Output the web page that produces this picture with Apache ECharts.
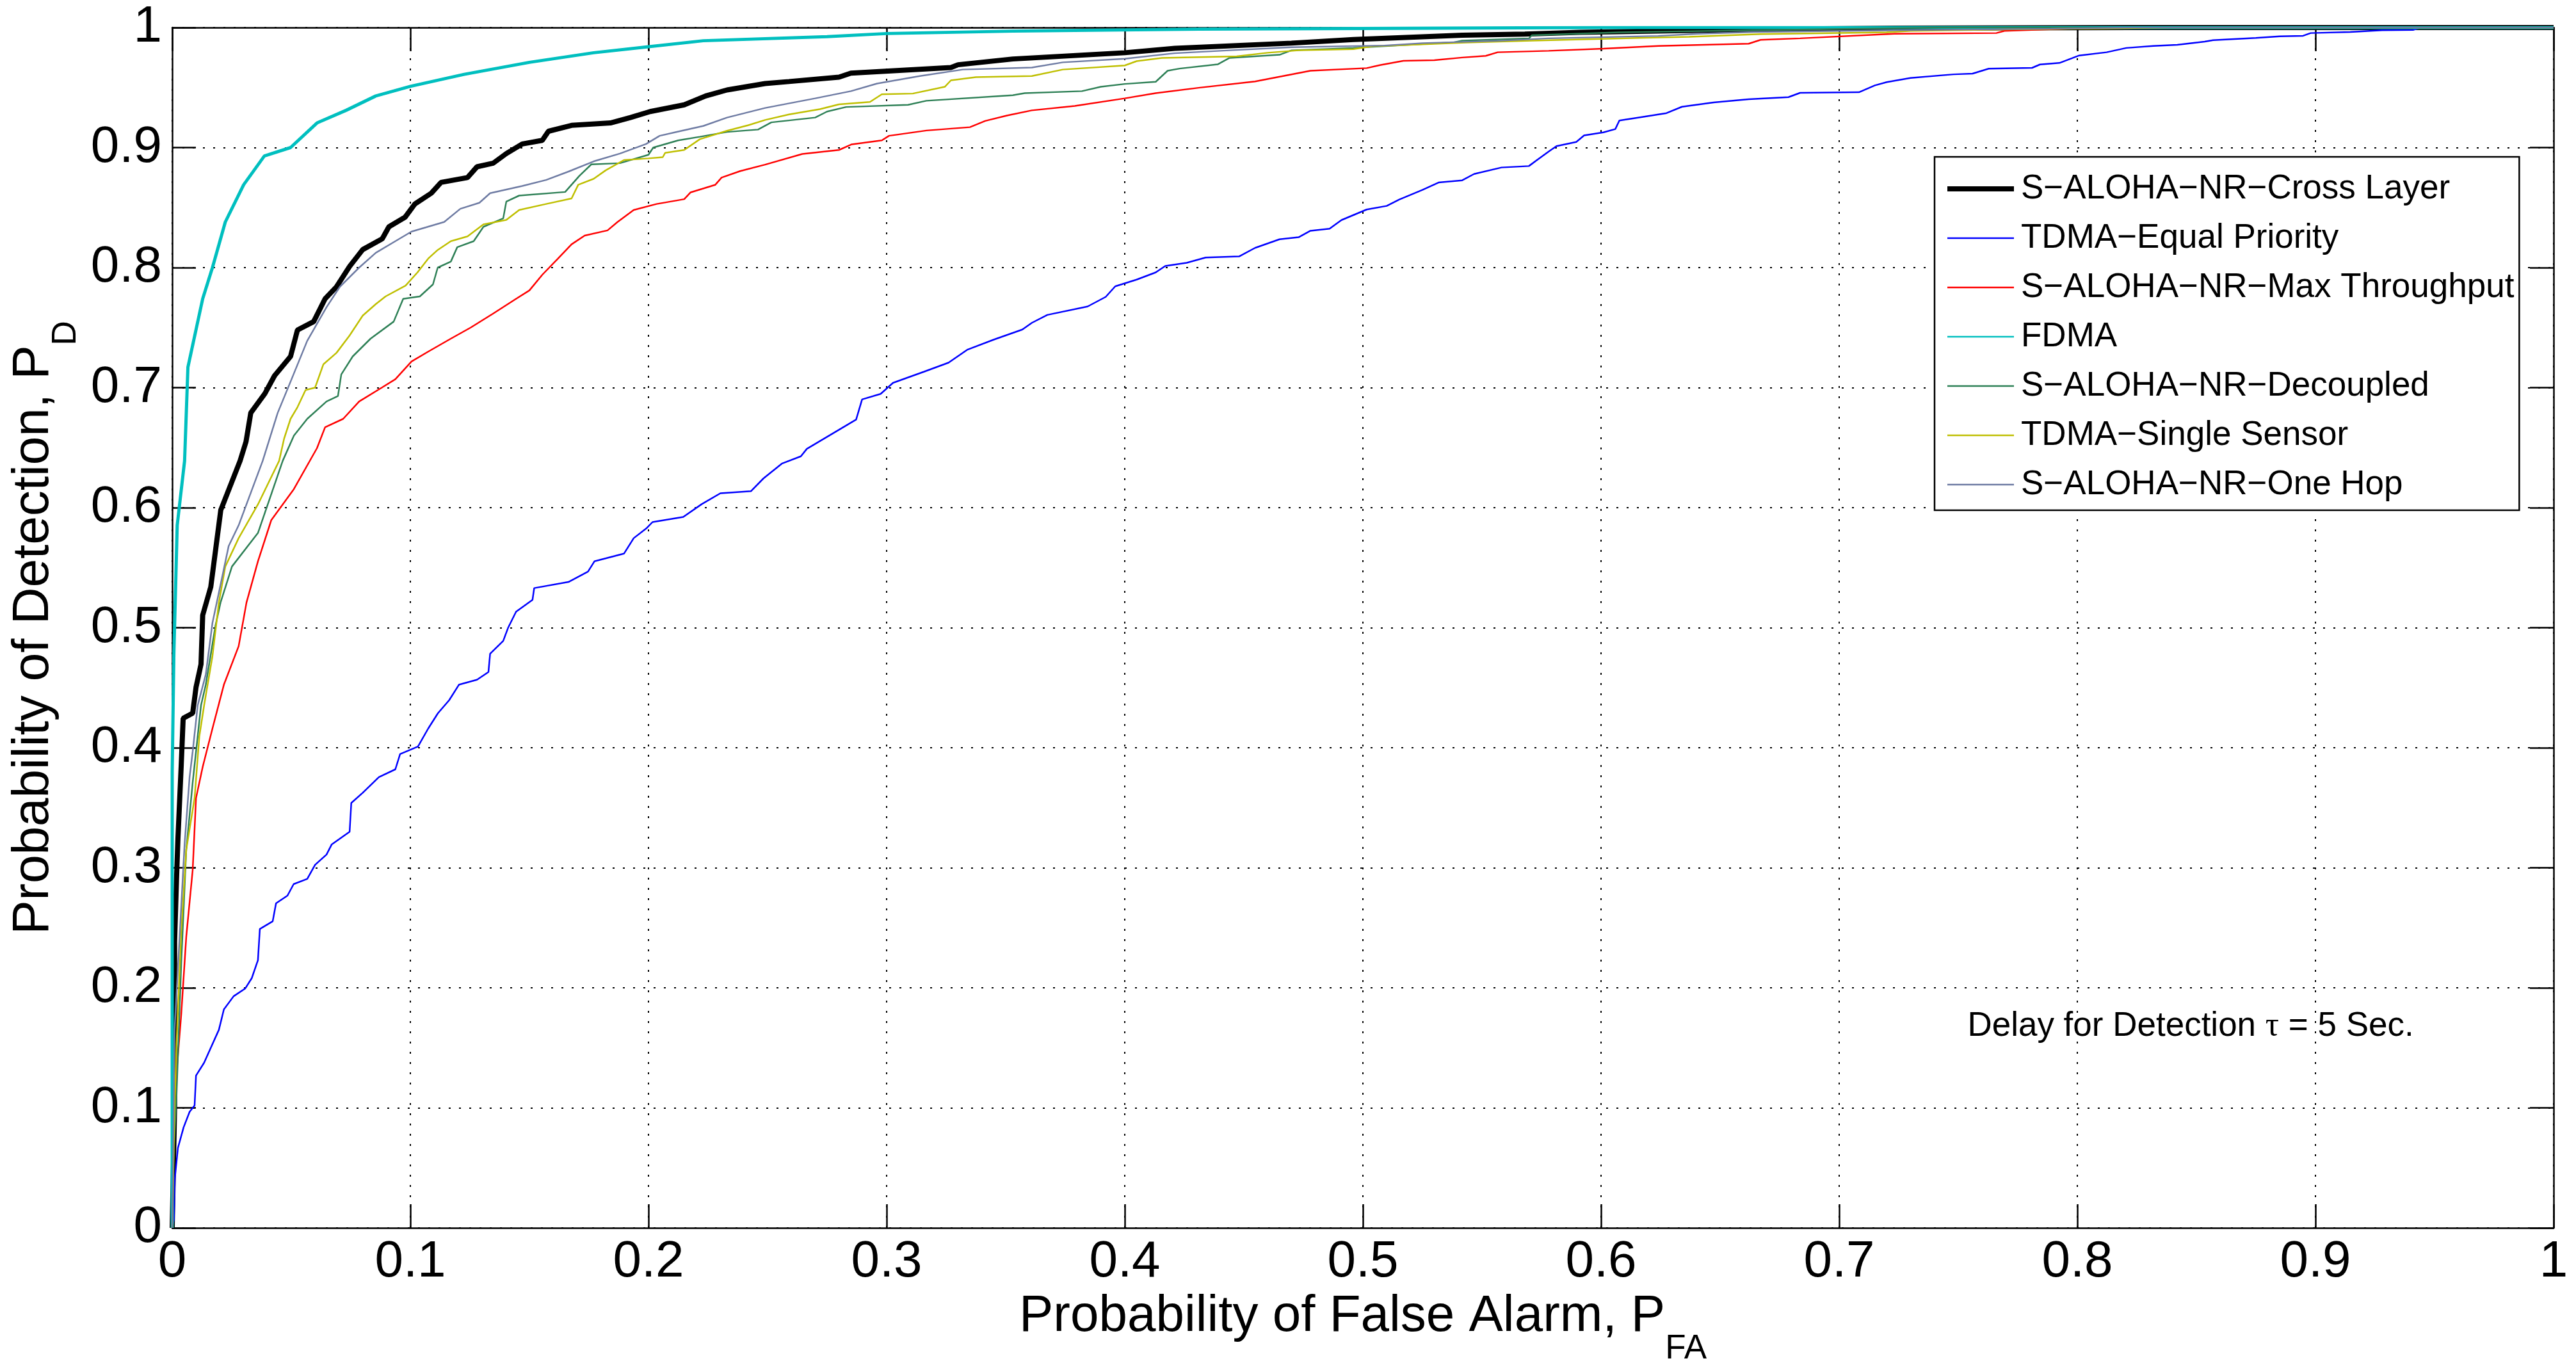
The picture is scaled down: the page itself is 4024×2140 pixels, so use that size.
<!DOCTYPE html>
<html>
<head>
<meta charset="utf-8">
<script src="https://cdn.jsdelivr.net/npm/echarts@6/dist/echarts.min.js"></script>
<style>
html, body { margin: 0; padding: 0; background: #fff; }
#chart { width: 4024px; height: 2140px; }
</style>
</head>
<body>
<div id="chart"></div>
<script>
// series names, in legend order
var seriesNames = [
  "S\u2212ALOHA\u2212NR\u2212Cross Layer",
  "TDMA\u2212Equal Priority",
  "S\u2212ALOHA\u2212NR\u2212Max Throughput",
  "FDMA",
  "S\u2212ALOHA\u2212NR\u2212Decoupled",
  "TDMA\u2212Single Sensor",
  "S\u2212ALOHA\u2212NR\u2212One Hop"
]

// ROC points [P_FA, P_D]
var crossLayer = [[0,0],[0.001,0.1],[0.001,0.238],[0.0018,0.29],[0.0024,0.324],[0.0038,0.386],[0.0046,0.4245],[0.0086,0.4288],[0.01,0.4503],[0.0121,0.4696],[0.0128,0.5104],[0.0162,0.534],[0.0204,0.598],[0.0285,0.639],[0.031,0.655],[0.033,0.679],[0.0389,0.695],[0.043,0.71],[0.0497,0.726],[0.0526,0.748],[0.0594,0.755],[0.0642,0.774],[0.069,0.784],[0.0745,0.801],[0.08,0.815],[0.0882,0.824],[0.091,0.834],[0.0978,0.842],[0.1019,0.853],[0.1088,0.862],[0.1129,0.871],[0.124,0.875],[0.128,0.884],[0.1348,0.887],[0.1403,0.895],[0.147,0.903],[0.1554,0.906],[0.158,0.9136],[0.1677,0.9185],[0.184,0.9205],[0.1924,0.925],[0.2007,0.93],[0.215,0.9356],[0.224,0.943],[0.233,0.948],[0.249,0.9533],[0.259,0.955],[0.28,0.9587],[0.285,0.962],[0.327,0.9667],[0.33,0.969],[0.353,0.9738],[0.4,0.979],[0.421,0.9827],[0.47,0.987],[0.496,0.99],[0.5417,0.9936],[0.568,0.9945],[0.591,0.996],[0.627,0.9972],[0.664,0.9984],[0.7232,0.9995],[0.822,1],[1,1]]

var equalPriority = [[0,0],[0.0007,0.007],[0.0011,0.041],[0.0024,0.0666],[0.0048,0.0838],[0.0073,0.0967],[0.0094,0.102],[0.01,0.1269],[0.0134,0.1376],[0.0162,0.15],[0.0196,0.165],[0.0217,0.182],[0.0258,0.193],[0.0307,0.1995],[0.0334,0.208],[0.036,0.223],[0.0368,0.249],[0.0422,0.2554],[0.0436,0.2704],[0.0484,0.2768],[0.051,0.2864],[0.0567,0.2907],[0.06,0.3025],[0.0648,0.311],[0.067,0.3195],[0.0745,0.33],[0.0752,0.354],[0.08,0.3625],[0.0868,0.3755],[0.0937,0.382],[0.0957,0.3947],[0.1032,0.401],[0.1075,0.416],[0.1116,0.4288],[0.1163,0.4396],[0.1204,0.4525],[0.128,0.4567],[0.1328,0.4631],[0.1335,0.4783],[0.139,0.489],[0.141,0.4997],[0.1444,0.5133],[0.1513,0.5232],[0.152,0.533],[0.1664,0.5381],[0.1746,0.5467],[0.1773,0.5553],[0.1897,0.5617],[0.1938,0.5746],[0.1993,0.5831],[0.2017,0.588],[0.2146,0.5923],[0.2224,0.603],[0.2302,0.612],[0.243,0.6137],[0.2483,0.6244],[0.256,0.6367],[0.264,0.6428],[0.2665,0.649],[0.2794,0.6642],[0.2872,0.6734],[0.2897,0.6902],[0.2975,0.6948],[0.3027,0.704],[0.3156,0.7132],[0.326,0.7208],[0.3338,0.7315],[0.345,0.74],[0.357,0.7484],[0.361,0.754],[0.3675,0.7606],[0.3844,0.7676],[0.392,0.7756],[0.396,0.7844],[0.405,0.79],[0.413,0.796],[0.417,0.8013],[0.426,0.804],[0.434,0.8084],[0.448,0.8093],[0.4547,0.8164],[0.465,0.8236],[0.473,0.8253],[0.478,0.8307],[0.486,0.8324],[0.491,0.8396],[0.5016,0.8484],[0.51,0.8514],[0.5153,0.8567],[0.525,0.8647],[0.5318,0.8709],[0.5417,0.8727],[0.5467,0.878],[0.5582,0.8834],[0.5697,0.8846],[0.5731,0.8896],[0.578,0.8967],[0.5813,0.9012],[0.5896,0.9047],[0.5929,0.9101],[0.601,0.9127],[0.606,0.9154],[0.6077,0.9225],[0.616,0.9251],[0.6275,0.9287],[0.634,0.934],[0.6473,0.9376],[0.662,0.9403],[0.6787,0.942],[0.6836,0.9456],[0.7083,0.9461],[0.715,0.9518],[0.72,0.9545],[0.73,0.958],[0.748,0.961],[0.756,0.9616],[0.7628,0.9657],[0.781,0.9664],[0.7843,0.9692],[0.7925,0.9705],[0.8008,0.9767],[0.8123,0.9794],[0.8206,0.983],[0.832,0.9847],[0.842,0.9856],[0.8535,0.9883],[0.857,0.9895],[0.875,0.9913],[0.885,0.9927],[0.8948,0.9931],[0.898,0.9954],[0.9146,0.9963],[0.928,0.9977],[0.941,0.998],[0.944,1],[1,1]]

var maxThroughput = [[0,0],[0.001,0.109],[0.0038,0.178],[0.0059,0.2426],[0.0086,0.298],[0.01,0.358],[0.0128,0.384],[0.0169,0.416],[0.0217,0.4525],[0.0279,0.4846],[0.0312,0.521],[0.036,0.5553],[0.0416,0.5896],[0.0511,0.6155],[0.0608,0.6496],[0.0642,0.667],[0.0718,0.674],[0.0785,0.6885],[0.088,0.7],[0.0937,0.707],[0.1005,0.7218],[0.1075,0.73],[0.117,0.7408],[0.1253,0.75],[0.1348,0.7617],[0.1444,0.774],[0.15,0.781],[0.1554,0.794],[0.162,0.8075],[0.1677,0.8194],[0.1732,0.8267],[0.1828,0.831],[0.187,0.838],[0.1938,0.848],[0.2034,0.853],[0.215,0.857],[0.2177,0.8627],[0.228,0.8689],[0.2307,0.875],[0.2385,0.8804],[0.249,0.8858],[0.2646,0.8947],[0.28,0.898],[0.2854,0.9027],[0.298,0.906],[0.301,0.9098],[0.3167,0.9142],[0.335,0.917],[0.3414,0.9222],[0.3505,0.9267],[0.361,0.931],[0.379,0.9347],[0.4,0.941],[0.413,0.9453],[0.431,0.9498],[0.4547,0.9551],[0.478,0.964],[0.5016,0.9662],[0.5071,0.9687],[0.517,0.9723],[0.53,0.9728],[0.5417,0.975],[0.5516,0.9764],[0.5566,0.9794],[0.578,0.9806],[0.601,0.9824],[0.6242,0.9847],[0.662,0.9865],[0.667,0.9897],[0.6836,0.991],[0.7232,0.9948],[0.766,0.9954],[0.7694,0.9972],[0.796,0.999],[0.847,1],[1,1]]

var fdma = [[0,0],[0,0.38],[0.0007,0.478],[0.0021,0.5853],[0.0052,0.639],[0.0066,0.717],[0.0128,0.774],[0.0169,0.8],[0.0223,0.838],[0.03,0.869],[0.0387,0.893],[0.0497,0.9],[0.0608,0.9205],[0.073,0.931],[0.0855,0.943],[0.1,0.951],[0.1226,0.961],[0.15,0.971],[0.177,0.979],[0.2,0.984],[0.223,0.989],[0.275,0.9924],[0.3,0.995],[0.353,0.997],[0.431,0.9987],[0.6,1],[1,1]]

var decoupled = [[0,0],[0.0007,0.0666],[0.0018,0.1096],[0.0038,0.221],[0.0059,0.315],[0.0086,0.371],[0.0121,0.4353],[0.0141,0.4525],[0.0182,0.502],[0.0203,0.521],[0.0251,0.551],[0.036,0.5789],[0.0464,0.639],[0.0511,0.66],[0.0567,0.674],[0.0648,0.6885],[0.0696,0.693],[0.071,0.711],[0.0758,0.726],[0.0833,0.7408],[0.093,0.755],[0.097,0.774],[0.104,0.776],[0.1095,0.786],[0.1115,0.8],[0.117,0.805],[0.1197,0.817],[0.1266,0.822],[0.1307,0.834],[0.139,0.841],[0.1403,0.855],[0.1457,0.86],[0.165,0.863],[0.171,0.8765],[0.176,0.886],[0.188,0.887],[0.2,0.894],[0.202,0.9],[0.2125,0.906],[0.2216,0.909],[0.233,0.913],[0.246,0.915],[0.2516,0.921],[0.27,0.925],[0.275,0.93],[0.283,0.9338],[0.309,0.9356],[0.3167,0.939],[0.353,0.9436],[0.358,0.9453],[0.382,0.947],[0.39,0.9507],[0.4,0.953],[0.413,0.9548],[0.4156,0.9596],[0.418,0.964],[0.423,0.9658],[0.439,0.9693],[0.444,0.9747],[0.465,0.9773],[0.47,0.981],[0.496,0.983],[0.5384,0.9877],[0.5417,0.9891],[0.5697,0.9909],[0.571,0.9936],[0.6077,0.996],[0.664,0.9977],[0.7232,0.9995],[0.743,1],[1,1]]

var singleSensor = [[0,0],[0.001,0.1],[0.0018,0.1525],[0.0038,0.2468],[0.0059,0.315],[0.0094,0.358],[0.0114,0.4096],[0.0134,0.4353],[0.0169,0.4763],[0.0196,0.521],[0.0223,0.551],[0.0279,0.5746],[0.036,0.6027],[0.0449,0.639],[0.047,0.6576],[0.0497,0.674],[0.0526,0.6837],[0.056,0.698],[0.06,0.7],[0.0635,0.7195],[0.069,0.729],[0.0745,0.7435],[0.08,0.76],[0.0855,0.7696],[0.0896,0.776],[0.098,0.785],[0.103,0.796],[0.1075,0.8075],[0.1115,0.8147],[0.117,0.822],[0.124,0.826],[0.1307,0.836],[0.1403,0.8397],[0.1457,0.848],[0.157,0.853],[0.1677,0.8576],[0.1705,0.869],[0.177,0.874],[0.182,0.881],[0.1897,0.8896],[0.2,0.891],[0.206,0.892],[0.207,0.8956],[0.215,0.898],[0.2216,0.907],[0.233,0.914],[0.242,0.9187],[0.249,0.923],[0.259,0.9276],[0.272,0.932],[0.28,0.936],[0.293,0.938],[0.298,0.9444],[0.311,0.945],[0.3245,0.9507],[0.327,0.956],[0.3375,0.9587],[0.361,0.9596],[0.374,0.965],[0.4,0.9684],[0.405,0.972],[0.4156,0.9747],[0.447,0.976],[0.46,0.979],[0.473,0.981],[0.496,0.982],[0.504,0.9844],[0.525,0.986],[0.543,0.9874],[0.571,0.9891],[0.616,0.9913],[0.637,0.9923],[0.667,0.9945],[0.7199,0.996],[0.73,0.9972],[0.7694,0.9984],[0.819,0.9995],[0.8387,1],[1,1]]

var oneHop = [[0,0],[0.001,0.165],[0.0052,0.3196],[0.0073,0.3755],[0.0086,0.3968],[0.0107,0.4353],[0.0141,0.461],[0.0169,0.504],[0.021,0.5424],[0.0237,0.568],[0.0279,0.5853],[0.038,0.639],[0.0443,0.679],[0.0497,0.705],[0.0567,0.739],[0.0648,0.767],[0.0704,0.784],[0.0785,0.8],[0.0855,0.8123],[0.0937,0.822],[0.1005,0.83],[0.1142,0.838],[0.121,0.849],[0.129,0.854],[0.1335,0.862],[0.147,0.868],[0.157,0.873],[0.1664,0.88],[0.177,0.8885],[0.188,0.895],[0.199,0.903],[0.2047,0.9098],[0.2125,0.9133],[0.223,0.918],[0.233,0.925],[0.249,0.933],[0.27,0.941],[0.285,0.947],[0.296,0.9533],[0.314,0.9596],[0.332,0.965],[0.361,0.9667],[0.374,0.971],[0.4,0.974],[0.421,0.9786],[0.444,0.981],[0.47,0.9836],[0.509,0.985],[0.525,0.987],[0.558,0.989],[0.578,0.991],[0.624,0.993],[0.6407,0.9948],[0.664,0.9963],[0.7232,0.9977],[0.789,0.999],[0.822,1],[1,1]]

var seriesData = [crossLayer, equalPriority, maxThroughput, fdma, decoupled, singleSensor, oneHop]
var lineColors = ["#000000", "#0000ff", "#ff0000", "#00bfbf", "#2e8056", "#bfbf00", "#6e7ba3"]
var lineWidths = [8, 2.5, 2.5, 5, 2.5, 2.5, 2.5]

var annotationText = "Delay for Detection {t|\u03c4} = 5 Sec."
var annotationAt = [0.8476, 0.168]

var FONT = "Liberation Sans, Arial, Helvetica, sans-serif"

var chart = echarts.init(document.getElementById("chart"))

var series = []
var legendItems = []
for (var i = 0; i < seriesData.length; i++) {
  series.push({
    name: seriesNames[i],
    type: "line",
    data: seriesData[i],
    symbol: "none",
    smooth: false,
    lineStyle: { color: lineColors[i], width: lineWidths[i] },
    itemStyle: { color: lineColors[i] },
    emphasis: { disabled: true },
    z: 3
  })
  // legend sample: a flat bar as thick as the line
  var h = i == 0 ? 8 : 2.5
  legendItems.push({
    name: seriesNames[i],
    icon: "path://M0,0H104V" + h + "H0Z",
    itemStyle: { color: lineColors[i], borderWidth: 0 }
  })
}

// axis box on all four sides, ticks inside like matlab
function boxAxis(pos, main) {
  return {
    type: "value",
    position: pos,
    min: 0,
    max: 1,
    interval: 0.1,
    axisLine: { show: true, onZero: false, lineStyle: { color: "#000", width: 2.5 } },
    axisTick: { show: true, inside: true, length: 37, lineStyle: { color: "#000", width: 2.5 } },
    axisLabel: main ? { show: true, color: "#000", fontSize: 80, fontFamily: FONT, margin: pos == "bottom" ? 14 : 16 } : { show: false },
    splitLine: main ? { show: true, lineStyle: { color: "#000", width: 2, type: [3, 13] } } : { show: false }
  }
}

var xMain = boxAxis("bottom", true)
xMain.name = "{m|Probability of False Alarm, P}{s|FA}"
xMain.nameLocation = "middle"
xMain.nameGap = 92
xMain.nameTextStyle = {
  fontSize: 80, fontFamily: FONT, color: "#000",
  rich: {
    m: { fontSize: 80, fontFamily: FONT, color: "#000", verticalAlign: "top" },
    s: { fontSize: 53, fontFamily: FONT, color: "#000", verticalAlign: "top", padding: [64, 0, 0, 0] }
  }
}
var yMain = boxAxis("left", true)
yMain.name = "{m|Probability of Detection, P}{s|D}"
yMain.nameLocation = "middle"
yMain.nameRotate = 90
yMain.nameGap = 139
yMain.nameTextStyle = xMain.nameTextStyle

var option = {
  animation: false,
  backgroundColor: "#fff",
  grid: { left: 269, right: 35, top: 43, bottom: 222, containLabel: false },
  xAxis: [xMain, boxAxis("top", false)],
  yAxis: [yMain, boxAxis("right", false)],
  legend: {
    orient: "vertical",
    left: 3022,
    top: 245,
    padding: [21, 8, 11, 20],
    itemGap: 19,
    itemWidth: 104,
    itemHeight: 20,
    symbolKeepAspect: true,
    backgroundColor: "#fff",
    borderColor: "#000",
    borderWidth: 2.5,
    borderRadius: 0,
    itemStyle: { borderWidth: 0 },
    textStyle: { fontSize: 53, lineHeight: 58, fontFamily: FONT, color: "#000", padding: [0, 0, 0, 6] },
    data: legendItems
  },
  series: series
}
chart.setOption(option)

// annotation anchored in data coordinates
var at = chart.convertToPixel({ gridIndex: 0 }, annotationAt)
chart.setOption({
  graphic: [{
    type: "text",
    x: at[0],
    y: at[1],
    z: 10,
    style: {
      text: annotationText,
      fontSize: 53,
      fontFamily: FONT,
      fill: "#000",
      align: "center",
      verticalAlign: "middle",
      rich: { t: { fontSize: 53, fontFamily: "Liberation Serif, DejaVu Serif, serif", fill: "#000" } }
    }
  }]
})
</script>
</body>
</html>
